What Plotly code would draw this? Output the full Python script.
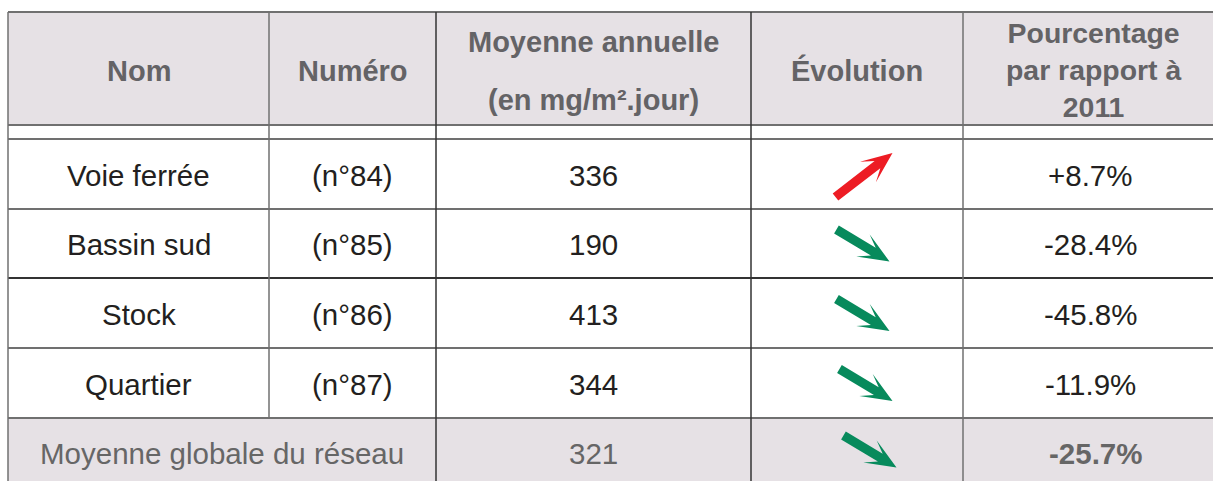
import plotly.graph_objects as go
import math

# ---- data ----
headers = ["Nom", "Numéro", "Moyenne annuelle", "Évolution", "Pourcentage<br>par rapport à<br>2011"]
header_sub = "(en mg/m².jour)"
noms = ["Voie ferrée", "Bassin sud", "Stock", "Quartier"]
numeros = ["(n°84)", "(n°85)", "(n°86)", "(n°87)"]
moyennes = [336, 190, 413, 344]
pourcentages = [8.7, -28.4, -45.8, -11.9]
global_label = "Moyenne globale du réseau"
global_moyenne = 321
global_pourcentage = -25.7

# ---- layout geometry (pixels, page coordinates) ----
W, H = 1213, 481
col_edges = [8, 269, 436, 751, 963, 1225]
top = 12
header_bottom = 125
spacer_bottom = 139
row_h = [70, 69, 70, 70]
row_edges = [spacer_bottom]
for h in row_h:
    row_edges.append(row_edges[-1] + h)
last_bottom = 495

HEADER_BG = "#E6E1E5"
HEADER_TXT = "#646366"
BODY_TXT = "#231F20"
GRID = "#707070"
GRID_DARK = "#333333"
RED = "#ED1C24"
GREEN = "#078A5C"
FONT = "Liberation Sans"
HEAD_SIZE = 29
BODY_SIZE = 29.5

fig = go.Figure()
fig.add_trace(go.Scatter(x=[0, W], y=[0, H], mode="markers", marker=dict(opacity=0),
                         hoverinfo="skip", showlegend=False))

shapes = []
annotations = []

def cx(i):
    return (col_edges[i] + col_edges[i + 1]) / 2

shapes.append(dict(type="rect", x0=col_edges[0], x1=col_edges[-1], y0=top, y1=header_bottom,
                   fillcolor=HEADER_BG, line_width=0, layer="below"))
shapes.append(dict(type="rect", x0=col_edges[0], x1=col_edges[-1], y0=row_edges[-1], y1=last_bottom,
                   fillcolor=HEADER_BG, line_width=0, layer="below"))

def hline(y, color=GRID, w=2):
    shapes.append(dict(type="line", x0=col_edges[0], x1=col_edges[-1], y0=y, y1=y, line=dict(color=color, width=w)))

def vline(x, y0, y1, color=GRID, w=1.5):
    shapes.append(dict(type="line", x0=x, x1=x, y0=y0, y1=y1, line=dict(color=color, width=w)))

hline(top)
hline(header_bottom)
hline(spacer_bottom)
for i, y in enumerate(row_edges[1:]):
    hline(y, GRID_DARK if i == 1 else GRID)

vline(col_edges[0], top, last_bottom)
vline(col_edges[1], top, row_edges[-1])
vline(col_edges[2], top, last_bottom, GRID_DARK)
vline(col_edges[3], top, last_bottom, GRID_DARK)
vline(col_edges[4], top, last_bottom)

def bold(t):
    return "<b>" + t.replace("<br>", "</b><br><b>") + "</b>"

def text(x, y, t, size, color):
    annotations.append(dict(x=x, y=y, text=t, showarrow=False,
                            font=dict(family=FONT, size=size, color=color),
                            xanchor="center", yanchor="middle"))

# header texts
hy = (top + header_bottom) / 2
pct_x = 1093
for i, h in enumerate(headers):
    if i == 2:
        text(cx(i), 42, bold(h), HEAD_SIZE, HEADER_TXT)
        text(cx(i), 100, bold(header_sub), HEAD_SIZE, HEADER_TXT)
    elif i == 4:
        text(pct_x, hy + 1, bold(h), HEAD_SIZE * 0.98, HEADER_TXT)
    else:
        text(cx(i), hy + 2, bold(h), HEAD_SIZE, HEADER_TXT)

def pct(v):
    return ("+" if v > 0 else "") + f"{v:.1f}%"

def arrow(xc, yc, up, color):
    if up:
        ang = math.atan2(-44, 57)
        L = 72
    else:
        ang = math.atan2(32, 53)
        L = 62
    hw, hl, bw, bb = 4.6, 19, 13, 31
    pts = [(0, -hw), (L - hl, -hw), (L - bb, -bw), (L, 0), (L - bb, bw), (L - hl, hw), (0, hw)]
    ca, sa = math.cos(ang), math.sin(ang)
    x0 = xc - ca * L / 2
    y0 = yc - sa * L / 2
    P = [(x0 + u * ca - v * sa, y0 + u * sa + v * ca) for u, v in pts]
    path = "M " + " L ".join(f"{x:.1f},{y:.1f}" for x, y in P) + " Z"
    shapes.append(dict(type="path", path=path, fillcolor=color, line_width=0))

for r in range(len(noms)):
    yc = (row_edges[r] + row_edges[r + 1]) / 2 + 1
    text(cx(0), yc, noms[r], BODY_SIZE, BODY_TXT)
    text(cx(1), yc, numeros[r], BODY_SIZE, BODY_TXT)
    text(cx(2), yc, str(moyennes[r]), BODY_SIZE, BODY_TXT)
    text(pct_x - 3, yc, pct(pourcentages[r]), BODY_SIZE, BODY_TXT)
    up = pourcentages[r] > 0
    arrow(857 + (7 if up else 6 + (3 if r == 3 else 0)), yc + (0 if up else 1), up, RED if up else GREEN)

# last row
ly = (row_edges[-1] + 481) / 2 + 4
text((col_edges[0] + col_edges[2]) / 2, ly, global_label, BODY_SIZE, "#666666")
text(cx(2), ly, str(global_moyenne), BODY_SIZE, "#666666")
text(pct_x + 2, ly, bold(pct(global_pourcentage)), BODY_SIZE, "#666666")
arrow(857 + 13, ly - 2, global_pourcentage > 0, RED if global_pourcentage > 0 else GREEN)

fig.update_layout(
    width=W, height=H, margin=dict(l=0, r=0, t=0, b=0),
    paper_bgcolor="white", plot_bgcolor="white",
    xaxis=dict(range=[0, W], visible=False, fixedrange=True),
    yaxis=dict(range=[H, 0], visible=False, fixedrange=True),
    shapes=shapes, annotations=annotations, showlegend=False,
)

fig.write_html(
    "out.html",
    config={"displayModeBar": False},
    post_script="document.body.style.margin='0';document.body.style.overflow='hidden';",
)
